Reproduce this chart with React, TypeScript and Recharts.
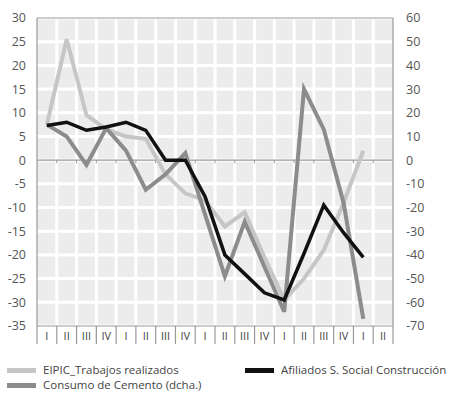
import React from 'react';
import { ComposedChart, Line, XAxis, YAxis, CartesianGrid, ReferenceLine } from 'recharts';

const quarters = ['I', 'II', 'III', 'IV', 'I', 'II', 'III', 'IV', 'I', 'II', 'III', 'IV', 'I', 'II', 'III', 'IV', 'I', 'II'];
const eipic = [7.5, 25.5, 9.5, 6.5, 5, 4.5, -3, -7, -8.5, -14, -11, -20.5, -29.5, -25, -19, -9, 2, null];
const cemento = [15, 10, -2, 13.5, 4, -12.5, -6, 3, -23, -49, -26, -45, -64, 30, 13, -18, -67, null];
const afiliados = [7.3, 8, 6.3, 7, 8, 6.3, 0, 0, -7.7, -20, -24, -28, -29.5, -19.7, -9.5, -15.3, -20.5, null];
const leftTicks = [-35, -30, -25, -20, -15, -10, -5, 0, 5, 10, 15, 20, 25, 30];
const rightTicks = [-70, -60, -50, -40, -30, -20, -10, 0, 10, 20, 30, 40, 50, 60];

const data = quarters.map((q, i) => ({ q, i, eipic: eipic[i], cemento: cemento[i], afiliados: afiliados[i] }));

const W = 470;
const H = 395;
const LEFT = 37;
const RIGHT_W = 77;
const TOP = 18;
const XH = 18;
const BOTTOM_M = 51;
const PLOT_W = W - LEFT - RIGHT_W;
const BW = PLOT_W / quarters.length;
const FONT = '"Open Sans", "DejaVu Sans", sans-serif';

const XTick = (props: any) => {
  const { x, y, payload, index } = props;
  const lx = x - BW / 2;
  return (
    <g>
      <line x1={lx} y1={y} x2={lx} y2={y + XH} stroke="#999" strokeWidth={1.2} />
      {index === quarters.length - 1 && (
        <line x1={x + BW / 2} y1={y} x2={x + BW / 2} y2={y + XH} stroke="#999" strokeWidth={1.2} />
      )}
      <text x={x} y={y + 14} textAnchor="middle" fontSize={11} fill="#444" fontFamily={FONT}>
        {payload.value}
      </text>
    </g>
  );
};

const ZeroLine = (props: any) => {
  const { x1, y1, x2, y2 } = props;
  const marks = [];
  for (let k = 1; k < quarters.length; k++) {
    const xx = x1 + k * ((x2 - x1) / quarters.length);
    marks.push(<line key={k} x1={xx} y1={y1} x2={xx} y2={y1 + 3} stroke="#999" strokeWidth={1} />);
  }
  return (
    <g>
      <line x1={x1} y1={y1} x2={x2} y2={y2} stroke="#999" strokeWidth={1.2} />
      {marks}
    </g>
  );
};

const LegendItem = ({ color, label, x, y }: { color: string; label: string; x: number; y: number }) => (
  <div style={{ position: 'absolute', left: x, top: y, height: 12, display: 'flex', alignItems: 'center', whiteSpace: 'nowrap' }}>
    <div style={{ width: 29, height: 5, background: color, marginRight: 7 }} />
    <span style={{ fontFamily: FONT, fontSize: 11.5, color: '#444', lineHeight: '12px' }}>{label}</span>
  </div>
);

export default function App() {
  return (
    <div style={{ position: 'absolute', left: 0, top: 0, width: W, height: H, background: '#fff', overflow: 'hidden' }}>
      <ComposedChart width={W} height={H} data={data} margin={{ top: TOP, right: 0, left: 0, bottom: BOTTOM_M }}>
        <CartesianGrid
          yAxisId="l"
          fill="#ececec"
          fillOpacity={1}
          stroke="#ffffff"
          strokeWidth={3}
          verticalCoordinatesGenerator={({ offset }: any) => {
            const arr: number[] = [];
            for (let k = 1; k < quarters.length; k++) arr.push(offset.left + (k * offset.width) / quarters.length);
            return arr;
          }}
        />
        <XAxis
          dataKey="i"
          type="category"
          height={XH}
          padding={{ left: BW / 2, right: BW / 2 }}
          tick={(p: any) => <XTick {...p} payload={{ value: quarters[p.payload.value] }} />}
          tickLine={false}
          tickSize={0}
          tickMargin={0}
          interval={0}
          axisLine={{ stroke: '#999', strokeWidth: 1.2 }}
        />
        <YAxis
          yAxisId="l"
          orientation="left"
          width={LEFT}
          domain={[-35, 30]}
          ticks={leftTicks}
          interval={0}
          tickLine={false}
          tickMargin={5}
          axisLine={{ stroke: '#999', strokeWidth: 1.2 }}
          tick={{ fontSize: 12.5, fill: '#555', fontFamily: FONT }}
        />
        <YAxis
          yAxisId="r"
          orientation="right"
          width={RIGHT_W}
          domain={[-70, 60]}
          ticks={rightTicks}
          interval={0}
          tickLine={false}
          tickMargin={7}
          axisLine={{ stroke: '#999', strokeWidth: 1.2 }}
          tick={{ fontSize: 12.5, fill: '#555', fontFamily: FONT, textAnchor: 'start' }}
        />
        <ReferenceLine yAxisId="l" y={30} stroke="#999" strokeWidth={1.2} />
        <ReferenceLine yAxisId="l" y={0} shape={(p: any) => <ZeroLine {...p} />} />
        <Line yAxisId="l" dataKey="eipic" stroke="#c6c6c6" strokeWidth={4} dot={false} isAnimationActive={false} />
        <Line yAxisId="r" dataKey="cemento" stroke="#8c8c8c" strokeWidth={4} dot={false} isAnimationActive={false} />
        <Line yAxisId="l" dataKey="afiliados" stroke="#111111" strokeWidth={3.5} dot={false} isAnimationActive={false} />
      </ComposedChart>
      <LegendItem color="#c6c6c6" label="EIPIC_Trabajos realizados" x={7} y={364} />
      <LegendItem color="#8c8c8c" label="Consumo de Cemento (dcha.)" x={7} y={379} />
      <LegendItem color="#111111" label="Afiliados S. Social Construcción" x={245} y={364} />
    </div>
  );
}
